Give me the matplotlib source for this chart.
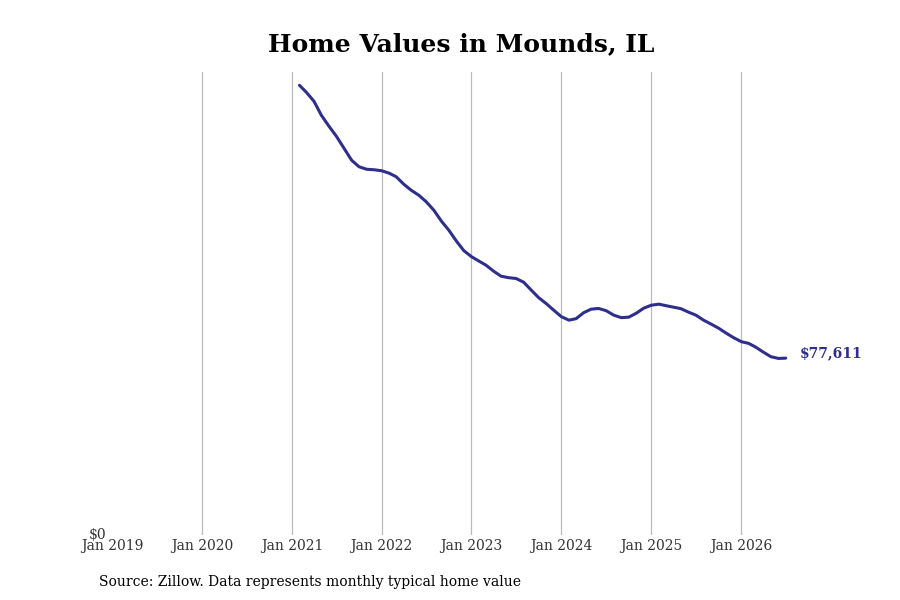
import matplotlib
matplotlib.use("Agg")
import matplotlib.pyplot as plt
import pandas as pd

start_month = "2021-02-01"
values = [
    197325, 194256, 190309, 184170, 179347, 174962, 169700, 164438, 161587, 160491,
    160272, 159833, 158737, 157202, 153914, 151283, 149090, 146240, 142513, 137689,
    133743, 128919, 124753, 122122, 120149, 118395, 115764, 113572, 112914, 112563,
    110941, 107433, 104144, 101513, 98663, 95812, 94278, 94935, 97566, 99101,
    99408, 98443, 96470, 95374, 95593, 97347, 99540, 100855, 101294, 100636,
    99978, 99320, 97786, 96470, 94278, 92524, 90770, 88577, 86604, 84850,
    84060, 82438, 80246, 78272, 77484, 77611,
]
tick_years = [2019, 2020, 2021, 2022, 2023, 2024, 2025, 2026]
title = "Home Values in Mounds, IL"
source = "Source: Zillow. Data represents monthly typical home value"
end_label = "$77,611"

dates = pd.date_range(start_month, periods=len(values), freq="MS")
color = "#2e2f8c"

plt.rcParams["font.family"] = ["DejaVu Serif"]
fig = plt.figure(figsize=(9, 6), dpi=100)
ax = fig.add_axes([0.1244, 0.1083, 0.779, 0.772])

ticks = [pd.Timestamp(f"{y}-01-01") for y in tick_years]
for t in ticks[1:]:
    ax.axvline(t, color="#bbbbbb", linewidth=0.9, zorder=0)

ax.plot(dates, values, color=color, linewidth=2.2, solid_capstyle="round", zorder=2)

ax.set_xlim(pd.Timestamp("2019-01-01"), pd.Timestamp("2026-10-20"))
ax.set_ylim(0, max(values) * 1.03)

ax.set_xticks(ticks)
ax.set_xticklabels([f"Jan {y}" for y in tick_years], fontsize=10, color="#333333")
ax.set_yticks([0])
ax.set_yticklabels(["$0"], fontsize=10, color="#333333")
ax.tick_params(axis="both", length=0)
ax.tick_params(axis="x", pad=3)
ax.tick_params(axis="y", pad=4)
for lbl in ax.get_yticklabels():
    lbl.set_verticalalignment("center")

ax.grid(False)
for s in ax.spines.values():
    s.set_visible(False)

ax.annotate(end_label, xy=(dates[-1], values[-1]), xytext=(10, 3.5),
            textcoords="offset points", fontsize=10, fontweight="bold",
            color=color, va="center", ha="left")

fig.text(0.512, 0.926, title, fontsize=18, fontweight="bold", ha="center", va="center")
fig.text(0.11, 0.03, source, fontsize=10, ha="left", va="center")

fig.savefig("out.png", dpi=100)
